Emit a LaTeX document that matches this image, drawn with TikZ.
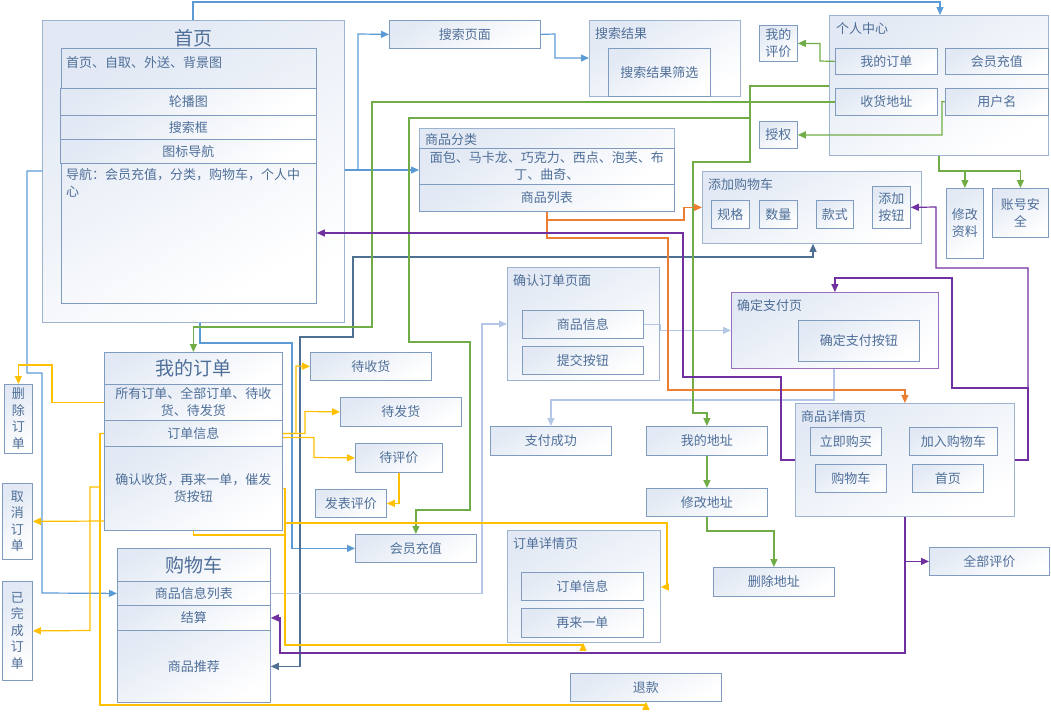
\documentclass[tikz,border=0pt]{standalone}
\usepackage{fontspec}
\setmainfont{Noto Sans CJK SC}
\usetikzlibrary{positioning,arrows.meta}
\definecolor{txc}{HTML}{4F6F99}
\definecolor{bdc}{HTML}{7F9CC0}
\definecolor{obd}{HTML}{9DB4D0}
\definecolor{shd}{HTML}{E2E9F4}
\definecolor{cbl}{HTML}{5B9BD5}
\definecolor{cdb}{HTML}{4F7093}
\definecolor{clb}{HTML}{B4C7E7}
\definecolor{cgr}{HTML}{70AD47}
\definecolor{cog}{HTML}{ED7D31}
\definecolor{cpp}{HTML}{7030A0}
\definecolor{cyl}{HTML}{FFC000}

\begin{document}
\begin{tikzpicture}[x=1pt, y=-1pt,
        >={Triangle[length=8pt,width=7pt]},
        box/.style={draw=bdc, line width=0.8pt, top color=shd, bottom color=white, shading angle=30, text=txc, inner sep=0pt, anchor=north west, align=center, font=\fontsize{13}{17}\selectfont},
        outer/.style={box, draw=obd},
        vbox/.style={box, font=\fontsize{13}{16.5}\selectfont},
        ttl/.style={text=txc, inner sep=0pt, font=\fontsize{19}{22}\selectfont},
        lab/.style={text=txc, inner sep=0pt, anchor=west, font=\fontsize{13}{17}\selectfont},
        cn/.style={line width=1.2pt, ->},
        bl/.style={cn, cbl},
        db/.style={cn, cdb},
        lb/.style={cn, clb},
        gr/.style={cn, cgr},
        og/.style={cn, cog},
        pp/.style={cn, cpp},
        yl/.style={cn, cyl}
    ]
        \useasboundingbox (0,0) rectangle (1051,712);

        % 首页
        \node[outer, minimum width=302, minimum height=302] (sy) at (42,20) {};
        \node[ttl] (syt) at (193,38) {首页};
        \node[box, minimum width=255, minimum height=255] (hpin) at (61,48) {};
        \node[lab] (hpl) at (66,63) {首页、自取、外送、背景图};
        \node[box, minimum width=256, minimum height=27] (lbt) at (60,88) {轮播图};
        \node[box, minimum width=256, minimum height=24] (ssk) at (60,115) {搜索框};
        \node[box, minimum width=256, minimum height=24] (tbdh) at (60,139) {图标导航};
        \node[lab, anchor=north west, align=left] (dh) at (66,168) {导航：会员充值，分类，购物车，个人中\\心};

        % 搜索
        \node[box, minimum width=151, minimum height=28] (ssym) at (389,20) {搜索页面};
        \node[outer, minimum width=151, minimum height=76] (ssjg) at (589,20) {};
        \node[lab] (ssjgl) at (595,34) {搜索结果};
        \node[box, minimum width=102, minimum height=48] (sssx) at (608,48) {搜索结果筛选};

        % 个人中心
        \node[outer, minimum width=219, minimum height=140] (grzx) at (829,15) {};
        \node[lab] (grzxl) at (836,29) {个人中心};
        \node[box, minimum width=102, minimum height=26] (wddd1) at (835,48) {我的订单};
        \node[box, minimum width=103, minimum height=26] (hycz1) at (945,48) {会员充值};
        \node[box, minimum width=102, minimum height=27] (shdz) at (835,88) {收货地址};
        \node[box, minimum width=103, minimum height=27] (yhm) at (945,88) {用户名};
        \node[box, minimum width=38, minimum height=36] (wdpj) at (759,25) {我的\\评价};
        \node[box, minimum width=38, minimum height=27] (sq) at (759,121) {授权};
        \node[box, minimum width=37, minimum height=70] (xgzl) at (946,188) {修改\\资料};
        \node[box, minimum width=56, minimum height=49] (zhaq) at (992,188) {账号安\\全};

        % 商品分类
        \node[outer, minimum width=255, minimum height=83] (spfl) at (419,128) {};
        \node[lab] (spfll) at (425,140) {商品分类};
        \node[box, minimum width=255, minimum height=36] (mb) at (419,148) {面包、马卡龙、巧克力、西点、泡芙、布\\丁、曲奇、};
        \node[box, minimum width=255, minimum height=27] (splb) at (419,184) {商品列表};

        % 添加购物车
        \node[outer, minimum width=219, minimum height=72] (tjgwc) at (702,171) {};
        \node[lab] (tjgwcl) at (708,185) {添加购物车};
        \node[box, minimum width=38, minimum height=28] (gg) at (711,200) {规格};
        \node[box, minimum width=38, minimum height=28] (sl) at (759,200) {数量};
        \node[box, minimum width=37, minimum height=28] (ks) at (816,200) {款式};
        \node[box, minimum width=38, minimum height=42] (tjan) at (872,186) {添加\\按钮};

        % 确认订单 / 支付
        \node[outer, minimum width=152, minimum height=113] (qrdd) at (507,267) {};
        \node[lab] (qrddl) at (513,281) {确认订单页面};
        \node[box, minimum width=121, minimum height=28] (spxx) at (522,310) {商品信息};
        \node[box, minimum width=121, minimum height=28] (tjan2) at (522,346) {提交按钮};
        \node[outer, draw=cpp!70, minimum width=207, minimum height=76] (qdzf) at (731,292) {};
        \node[lab] (qdzfl) at (737,306) {确定支付页};
        \node[box, minimum width=121, minimum height=41] (qdzfan) at (798,320) {确定支付按钮};
        \node[box, minimum width=121, minimum height=29] (zfcg) at (490,426) {支付成功};

        % 我的订单
        \node[box, minimum width=178, minimum height=32, font=\fontsize{19}{22}\selectfont] (wddt) at (104,352) {我的订单};
        \node[box, minimum width=178, minimum height=36] (wddr) at (104,384) {所有订单、全部订单、待收\\货、待发货};
        \node[box, minimum width=178, minimum height=26] (ddxx) at (104,420) {订单信息};
        \node[box, minimum width=178, minimum height=84] (wddb) at (104,446) {确认收货，再来一单，催发\\货按钮};
        \node[vbox, minimum width=28, minimum height=69] (scdd) at (4,384) {删\\除\\订\\单};
        \node[vbox, minimum width=30, minimum height=76] (qxdd) at (2,483) {取\\消\\订\\单};
        \node[vbox, minimum width=30, minimum height=99] (ywcdd) at (2,581) {已\\完\\成\\订\\单};
        \node[box, minimum width=121, minimum height=28] (dsh) at (310,352) {待收货};
        \node[box, minimum width=121, minimum height=29] (dfh) at (340,397) {待发货};
        \node[box, minimum width=87, minimum height=29] (dpj) at (355,443) {待评价};
        \node[box, minimum width=71, minimum height=28] (fbpj) at (315,489) {发表评价};
        \node[box, minimum width=121, minimum height=28] (hycz2) at (355,534) {会员充值};

        % 购物车
        \node[box, minimum width=153, minimum height=33, font=\fontsize{19}{22}\selectfont] (gwct) at (117,548) {购物车};
        \node[box, minimum width=153, minimum height=24] (spxxlb) at (117,581) {商品信息列表};
        \node[box, minimum width=153, minimum height=25] (js) at (117,605) {结算};
        \node[box, minimum width=153, minimum height=72] (sptj) at (117,630) {商品推荐};

        % 订单详情页
        \node[outer, minimum width=153, minimum height=112] (ddxq) at (507,530) {};
        \node[lab] (ddxql) at (513,544) {订单详情页};
        \node[box, minimum width=122, minimum height=28] (ddxx2) at (521,572) {订单信息};
        \node[box, minimum width=122, minimum height=29] (zlyd) at (521,608) {再来一单};
        \node[box, minimum width=151, minimum height=28] (tk) at (570,673) {退款};

        % 地址
        \node[box, minimum width=121, minimum height=29] (wddz) at (646,426) {我的地址};
        \node[box, minimum width=121, minimum height=28] (xgdz) at (646,488) {修改地址};
        \node[box, minimum width=121, minimum height=29] (scdz) at (713,567) {删除地址};

        % 商品详情页
        \node[outer, minimum width=219, minimum height=113] (spxq) at (795,403) {};
        \node[lab] (spxql) at (801,417) {商品详情页};
        \node[box, minimum width=71, minimum height=28] (ljgm) at (810,427) {立即购买};
        \node[box, minimum width=88, minimum height=28] (jrgwc) at (909,427) {加入购物车};
        \node[box, minimum width=71, minimum height=28] (gwc2) at (815,464) {购物车};
        \node[box, minimum width=71, minimum height=28] (sy2) at (912,464) {首页};
        \node[box, minimum width=120, minimum height=28] (qbpj) at (929,547) {全部评价};

        % blue
        \draw[bl] (sy.north -| 193,0) -- (193,2) -| (grzx.north -| 940,0);
        \draw[bl] (sy.east |- 0,170) -| (358,34) -- (ssym.west);
        \draw[bl] (sy.east |- 0,170) -- (mb.west |- 0,170);
        \draw[bl] (ssym.east) -- (555,34) |- (ssjg.west |- 0,58);
        \draw[bl] (sy.west |- 0,171) -| (27,373) -| (42,593) -- (spxxlb.west);
        \draw[bl] (sy.south -| 200,0) |- (292,343) |- (hycz2.west);
        \draw[db, <->] (sptj.east) -| (300,337) -| (353,257) -| (tjgwc.south -| 813,0);

        % light blue
        \draw[lb] (spxxlb.east) -| (482,324) -- (qrdd.west |- 0,324);
        \draw[lb] (spxx.east) -- ++(17,0) |- (qdzf.west);
        \draw[lb] (qdzf.south -| 834,0) |- (zfcg.north |- 0,400) -- (zfcg.north);

        % green
        \draw[gr] (wddd1.west) -- (820,61) |- (wdpj.east);
        \draw[gr] (yhm.west) -- (942,101.5) |- (sq.east);
        \draw[gr] (grzx.south) |- (xgzl.north |- 0,171) -- (xgzl.north);
        \draw[gr] (grzx.south) |- (zhaq.north |- 0,171) -- (zhaq.north);
        \draw[gr] (grzx.west |- 0,86) -| (750,162) -| (693,413) -| (wddz.north);
        \draw[gr] (grzx.west |- 0,86) -| (750,118) -| (409,342) -| (470,510) -| (hycz2.north);
        \draw[gr] (shdz.west) -| (372,327) -| (wddt.north);
        \draw[gr] (wddz) -- (xgdz);
        \draw[gr] (xgdz.south) |- (scdz.north |- 0,531) -- (scdz.north);

        % orange
        \draw[og] (splb.south) |- (684,220) |- (tjgwc.west);
        \draw[og] (splb.south) |- (668,238) |- (spxq.north |- 0,390) -- (spxq.north);

        % purple
        \draw[pp] (spxq.west |- 0,460) -| (781,377) -| (683,233) -- (hpin.east |- 0,233);
        \draw[pp] (spxq.east |- 0,460) -| (1028,268) -| (936,207) -- (tjan.east);
        \draw[pp] (spxq.east |- 0,460) -| (1028,388) -| (952,278) -| (qdzf.north);
        \draw[pp] (spxq.south) |- (280,653) |- (js.east);
        \draw[pp] (spxq.south) |- (qbpj.west);

        % yellow
        \draw[yl] (wddr.west) -| (52,365) -| (scdd.north);
        \draw[yl] (wddb.west |- 0,521) -- (qxdd.east);
        \draw[yl] (ddxx.west) -| (100,487) -| (90,630.5) -- (ywcdd.east);
        \draw[yl] (ddxx.west) -| (100,705) -| (tk.south);
        \draw[yl] (ddxx.east) -| (296,366) -- (dsh.west);
        \draw[yl] (ddxx.east) -| (305,411.5) -- (dfh.west);
        \draw[yl] ([yshift=-4pt]ddxx.east) -| (314,457.5) -- (dpj.west);
        \draw[yl] (dpj.south) |- (fbpj.east);
        \draw[yl] (wddb.east) -| (285,645) -| (ddxq.south -| 583,0);
        \draw[yl] (wddb.east) -| (285,523) -| (667,587) -- (ddxq.east |- 0,587);
        \draw[yl, -] (wddb.south) |- (285,535);
    \end{tikzpicture}
\end{document}
